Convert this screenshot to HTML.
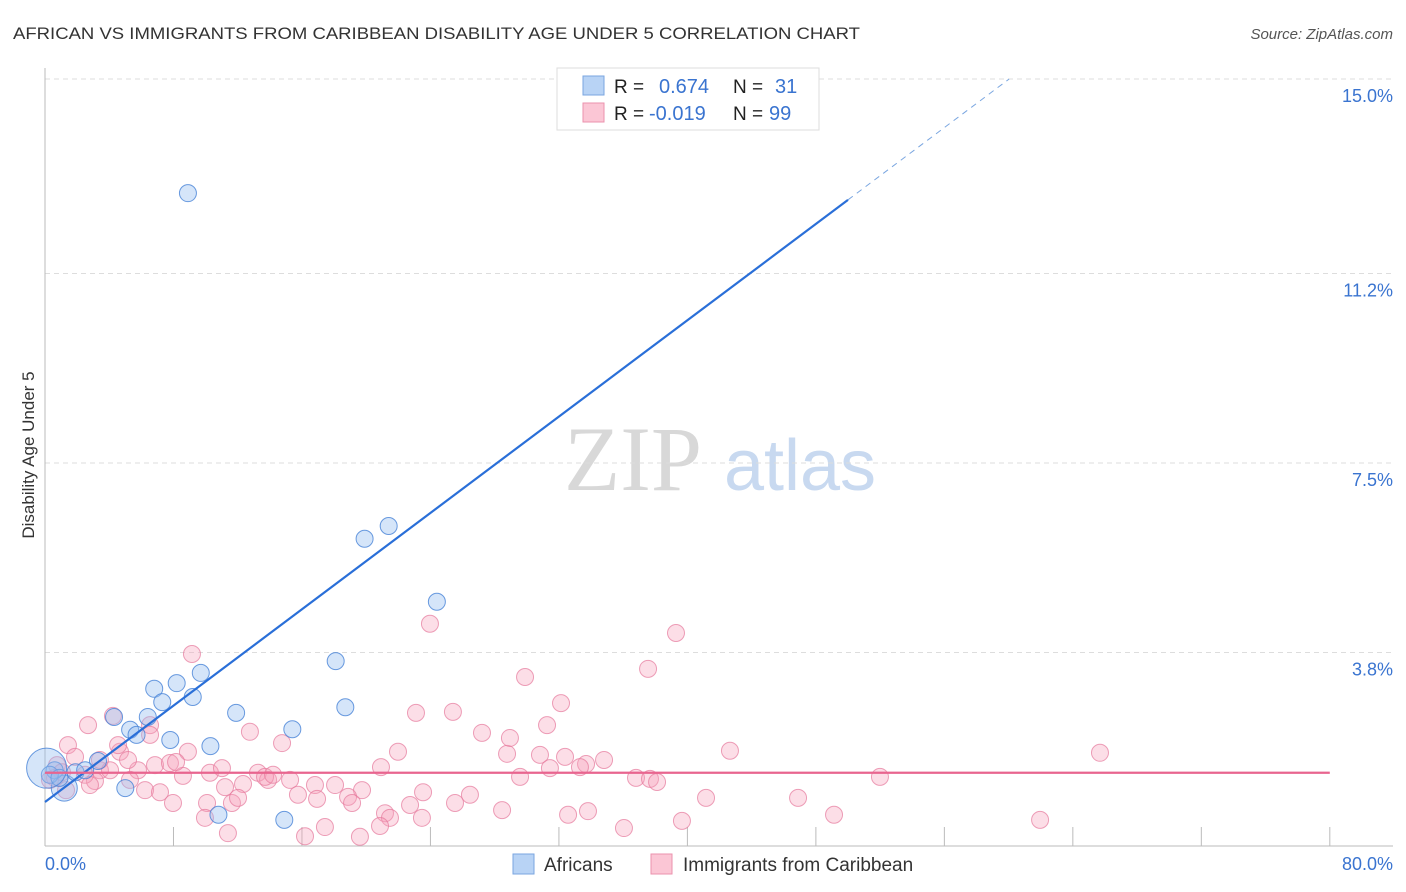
<!DOCTYPE html>
<html><head><meta charset="utf-8"><style>
body{margin:0;background:#fff;font-family:"Liberation Sans",sans-serif;}
svg{display:block}
</style></head><body>
<svg id="chart" width="1406" height="892">
<text x="13" y="39" font-size="17" fill="#333" textLength="847" lengthAdjust="spacingAndGlyphs">AFRICAN VS IMMIGRANTS FROM CARIBBEAN DISABILITY AGE UNDER 5 CORRELATION CHART</text>
<text x="1393" y="39" font-size="15" fill="#555" font-style="italic" text-anchor="end">Source: ZipAtlas.com</text>
<g>
<text x="633" y="490" font-size="92" fill="#d8d8d8" font-family="Liberation Serif,serif" text-anchor="middle">ZIP</text>
<text x="800" y="490" font-size="72" fill="#c8d9f0" text-anchor="middle">atlas</text>
</g>
<g id="grid"></g>
<g id="axes"></g>
<g id="pts"></g>
<g id="lines"></g>
<text transform="translate(34,455) rotate(-90)" font-size="17" fill="#333" text-anchor="middle">Disability Age Under 5</text>
<text x="45" y="870" font-size="18" fill="#3a74d0">0.0%</text>
<text x="1393" y="870" font-size="18" fill="#3a74d0" text-anchor="end">80.0%</text>
<g>
<rect x="557" y="68" width="262" height="62" fill="#fff" stroke="#ddd"/>
<rect x="583" y="76" width="21" height="19" fill="#b8d3f5" stroke="#7aa6e0"/>
<rect x="583" y="103" width="21" height="19" fill="#fbc6d5" stroke="#eb92ad"/>
<text x="614" y="93" font-size="19" fill="#222">R =</text><text x="659" y="93" font-size="20" fill="#3a74d0">0.674</text>
<text x="733" y="93" font-size="19" fill="#222">N =</text><text x="775" y="93" font-size="20" fill="#3a74d0">31</text>
<text x="614" y="120" font-size="19" fill="#222">R =</text><text x="649" y="120" font-size="20" fill="#3a74d0">-0.019</text>
<text x="733" y="120" font-size="19" fill="#222">N =</text><text x="769" y="120" font-size="20" fill="#3a74d0">99</text>
</g>
<g>
<rect x="513" y="854" width="21" height="20" fill="#b8d3f5" stroke="#7aa6e0"/>
<text x="544" y="871" font-size="19" fill="#333">Africans</text>
<rect x="651" y="854" width="21" height="20" fill="#fbc6d5" stroke="#eb92ad"/>
<text x="683" y="871" font-size="19" fill="#333">Immigrants from Caribbean</text>
</g>
</svg>
<script>
const yTicks=[3.8,7.5,11.2,15.0];
const yTickLabels=["3.8%","7.5%","11.2%","15.0%"];
const xTicks=[8,16,24,32,40,48,56,64,72,80];
const blueX=[8.9,41.8,21.4,19.9,24.4,18.1,9.7,8.2,6.8,9.2,7.3,18.7,11.9,6.4,4.3,15.4,5.3,5.7,7.8,10.3,3.3,1.2,5.0,10.8,14.9,0.6,0.3,0.9,1.9,2.5,0.1];
const blueY=[12.77,14.3,6.27,6.02,4.79,3.63,3.40,3.20,3.09,2.93,2.83,2.73,2.62,2.54,2.54,2.30,2.29,2.19,2.09,1.97,1.68,1.15,1.15,0.63,0.53,1.50,1.41,1.35,1.46,1.50,1.54];
const pinkX=[9.15,23.97,39.29,37.55,29.89,32.13,23.10,25.40,31.26,4.23,2.68,6.54,12.76,14.76,1.43,4.67,21.98,28.77,42.65,65.69,27.21,28.95,30.82,32.38,34.81,33.69,20.92,31.44,33.31,6.85,8.90,7.78,5.79,10.27,13.26,3.42,1.87,0.75,3.11,5.29,8.59,11.21,12.33,13.89,15.26,16.81,18.06,19.74,22.73,23.54,26.46,29.58,36.80,37.67,38.11,51.99,6.23,7.16,7.97,10.09,11.64,12.02,15.75,16.94,18.87,19.12,25.53,28.46,21.17,21.48,23.47,32.57,33.81,41.16,46.89,49.13,9.96,11.39,16.19,17.43,19.61,20.86,36.05,39.66,61.96,4.55,6.54,5.17,4.05,13.70,14.20,11.02,1.06,0.62,2.49,0.31,1.31,2.80,3.42,8.16];
const pinkY=[3.77,4.36,4.18,3.48,3.32,2.81,2.62,2.64,2.38,2.56,2.38,2.38,2.25,2.03,1.99,1.86,1.86,1.82,1.88,1.84,2.23,2.13,1.80,1.76,1.70,1.62,1.56,1.54,1.56,1.60,1.86,1.64,1.50,1.45,1.45,1.50,1.76,1.60,1.29,1.31,1.39,1.17,1.23,1.31,1.31,1.21,1.21,1.11,0.82,1.07,1.02,1.37,1.35,1.33,1.27,1.37,1.11,1.07,0.86,0.86,0.86,0.96,1.02,0.94,0.98,0.86,0.86,0.72,0.66,0.57,0.57,0.63,0.70,0.96,0.96,0.63,0.57,0.27,0.21,0.39,0.20,0.41,0.37,0.51,0.53,1.99,2.19,1.70,1.50,1.37,1.41,1.54,1.46,1.35,1.41,1.31,1.11,1.21,1.70,1.66];
const blueFit=[0.88,12.64]; // value at x=0 and x=50
const pinkFit=[1.45,1.45];
const X=v=>45+v*16.06, Y=v=>847-v*51.2;
const NS="http://www.w3.org/2000/svg";
function mk(t,a,p){const e=document.createElementNS(NS,t);for(const k in a)e.setAttribute(k,a[k]);p.appendChild(e);return e;}
const grid=document.getElementById('grid'),axes=document.getElementById('axes'),pts=document.getElementById('pts'),lines=document.getElementById('lines');
yTicks.forEach((v,i)=>{
 const l=mk('line',{x1:45,x2:1393,y1:Y(v),y2:Y(v),stroke:'#ddd','stroke-dasharray':'5,4'},grid);
 
 
 const t=mk('text',{x:1393,y:Y(v)+23,'font-size':18,fill:'#3a74d0','text-anchor':'end'},grid);
 t.textContent=yTickLabels[i];
 
 
});
const ya=mk('line',{x1:45,x2:45,y1:68,y2:846,stroke:'#bbb'},axes);


const xa=mk('line',{x1:45,x2:1393,y1:846,y2:846,stroke:'#bbb'},axes);


xTicks.forEach(v=>{
 const t=mk('line',{x1:X(v),x2:X(v),y1:827,y2:846,stroke:'#bbb'},axes);
 
 
});
pinkX.forEach((x,i)=>{
 const c=mk('circle',{cx:X(x),cy:Y(pinkY[i]),r:8.5,fill:'rgba(245,160,185,0.35)',stroke:'rgba(230,120,155,0.7)','stroke-width':1},pts);
 
 
});
blueX.forEach((x,i)=>{
 const r=i==30?20:(i==21?13:8.5);
 const c=mk('circle',{cx:X(x),cy:Y(blueY[i]),r:r,fill:'rgba(150,190,240,0.4)',stroke:'rgba(70,130,215,0.8)','stroke-width':1},pts);
 
 
});
const slope=(blueFit[1]-blueFit[0])/50;
const bl=mk('line',{x1:X(0),y1:Y(blueFit[0]),x2:X(50),y2:Y(blueFit[1]),stroke:'#2a6fd8','stroke-width':2.2},lines);


const xEnd=(15-blueFit[0])/slope;
const bd=mk('line',{x1:X(50),y1:Y(blueFit[1]),x2:X(xEnd),y2:Y(15),stroke:'#7aa6e0','stroke-width':1,'stroke-dasharray':'6,5'},lines);


const pl=mk('line',{x1:X(0),y1:Y(pinkFit[0]),x2:X(80),y2:Y(pinkFit[1]),stroke:'#e8658f','stroke-width':2.2},lines);


</script>
</body></html>
